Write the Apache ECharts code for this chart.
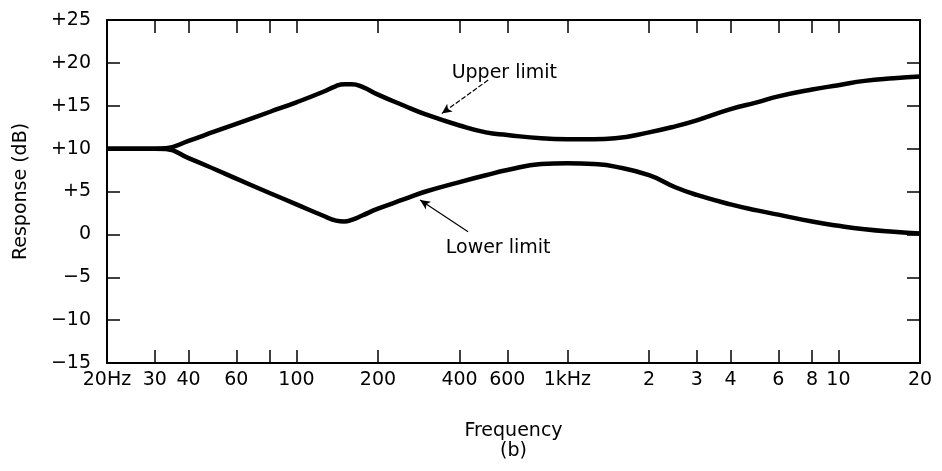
<!DOCTYPE html>
<html>
<head>
<meta charset="utf-8">
<script src="https://cdn.jsdelivr.net/npm/echarts@6/dist/echarts.min.js"></script>
<style>
  html, body { margin: 0; padding: 0; background: #fff; }
  #main { width: 942px; height: 471px; }
</style>
</head>
<body>
<div id="main"></div>
<script>
// frequencies in Hz
var freqs = [20, 25, 30, 33, 40, 50, 60, 80, 100, 125, 140, 150, 160, 175, 200, 250, 300, 400, 500, 600, 800, 1000, 1250, 1500, 2000, 2500, 3000, 4000, 5000, 6000, 8000, 10000, 12500, 16000, 20000];
var upperLimit = [10, 10, 10, 10.05, 10.9, 12.0, 12.9, 14.3, 15.4, 16.6, 17.3, 17.5, 17.5, 17.2, 16.3, 15.0, 14.0, 12.7, 11.9, 11.6, 11.2, 11.1, 11.1, 11.2, 11.9, 12.6, 13.3, 14.6, 15.4, 16.1, 16.9, 17.4, 17.9, 18.2, 18.4];
var lowerLimit = [10, 10, 10, 9.95, 8.9, 7.6, 6.5, 4.8, 3.5, 2.2, 1.6, 1.5, 1.7, 2.2, 3.0, 4.1, 5.0, 6.1, 6.9, 7.5, 8.2, 8.3, 8.2, 7.9, 6.9, 5.5, 4.6, 3.5, 2.8, 2.3, 1.5, 1.0, 0.6, 0.3, 0.1];

var tickFreqs = [30, 40, 60, 80, 100, 200, 400, 600, 1000, 2000, 3000, 4000, 6000, 8000, 10000];
var labelFreqs = [20, 30, 40, 60, 100, 200, 400, 600, 1000, 2000, 3000, 4000, 6000, 8000, 10000, 20000];
var labelTexts = ['20Hz', '30', '40', '60', '100', '200', '400', '600', '1kHz', '2', '3', '4', '6', '8', '10', '20'];

// annotation anchors [freq, dB]
var upperText = [585, 18.8];
var upperArrow = [[510, 18.0], [344, 14.1]];
var lowerText = [555, -1.6];
var lowerArrow = [[430, 0.3], [286, 4.0]];

var font = 'DejaVu Sans';
var fs = 19;

var chart = echarts.init(document.getElementById('main'));

function pairs(xs, ys) {
    return xs.map(function (x, i) { return [x, ys[i]]; });
}

var axisLine = { show: true, onZero: false, lineStyle: { color: '#000', width: 2 } };
var tick = { show: true, inside: true, length: 13, lineStyle: { color: '#000', width: 1.5 } };

chart.setOption({
    animation: false,
    grid: { left: 107, right: 22, top: 20, bottom: 108 },
    xAxis: [
        {
            type: 'log',
            logBase: 10,
            min: 20,
            max: 20000,
            position: 'bottom',
            axisLine: axisLine,
            splitLine: { show: false },
            minorTick: { show: false },
            axisTick: Object.assign({ customValues: tickFreqs }, tick),
            axisLabel: {
                color: '#000',
                fontFamily: font,
                fontSize: fs,
                margin: 8,
                customValues: labelFreqs,
                formatter: function (v) {
                    var i = labelFreqs.indexOf(Math.round(v));
                    return i >= 0 ? labelTexts[i] : '';
                }
            },
            name: 'Frequency\n(b)',
            nameLocation: 'middle',
            nameGap: 58,
            nameTextStyle: { color: '#000', fontFamily: font, fontSize: fs, lineHeight: 20 }
        },
        {
            type: 'log',
            logBase: 10,
            min: 20,
            max: 20000,
            position: 'top',
            axisLine: axisLine,
            splitLine: { show: false },
            axisTick: Object.assign({ customValues: tickFreqs }, tick),
            axisLabel: { show: false }
        }
    ],
    yAxis: [
        {
            type: 'value',
            min: -15,
            max: 25,
            interval: 5,
            position: 'left',
            axisLine: axisLine,
            splitLine: { show: false },
            axisTick: tick,
            axisLabel: {
                color: '#000',
                fontFamily: font,
                fontSize: fs,
                margin: 16,
                formatter: function (v) {
                    if (v > 0) return '+' + v;
                    if (v < 0) return '\u2212' + Math.abs(v);
                    return '0';
                }
            },
            name: 'Response (dB)',
            nameLocation: 'middle',
            nameGap: 76,
            nameTextStyle: { color: '#000', fontFamily: font, fontSize: fs }
        },
        {
            type: 'value',
            min: -15,
            max: 25,
            interval: 5,
            position: 'right',
            axisLine: axisLine,
            splitLine: { show: false },
            axisTick: tick,
            axisLabel: { show: false }
        }
    ],
    series: [
        {
            type: 'line',
            name: 'Upper limit',
            smooth: 0.5,
            showSymbol: false,
            lineStyle: { color: '#000', width: 4.5 },
            data: pairs(freqs, upperLimit),
            markLine: {
                silent: true,
                symbol: ['none', 'arrow'],
                symbolSize: [7, 10],
                label: { show: false },
                lineStyle: { color: '#000', width: 1.2, type: [5, 2] },
                data: [[{ coord: upperArrow[0] }, { coord: upperArrow[1] }]]
            },
            markPoint: {
                symbolSize: 0,
                label: { show: true, color: '#000', fontFamily: font, fontSize: fs, formatter: 'Upper limit' },
                data: [{ coord: upperText }]
            }
        },
        {
            type: 'line',
            name: 'Lower limit',
            smooth: 0.5,
            showSymbol: false,
            lineStyle: { color: '#000', width: 4.5 },
            data: pairs(freqs, lowerLimit),
            markLine: {
                silent: true,
                symbol: ['none', 'arrow'],
                symbolSize: [7, 10],
                label: { show: false },
                lineStyle: { color: '#000', width: 1.2, type: 'solid' },
                data: [[{ coord: lowerArrow[0] }, { coord: lowerArrow[1] }]]
            },
            markPoint: {
                symbolSize: 0,
                label: { show: true, color: '#000', fontFamily: font, fontSize: fs, formatter: 'Lower limit' },
                data: [{ coord: lowerText }]
            }
        }
    ]
});
</script>
</body>
</html>
